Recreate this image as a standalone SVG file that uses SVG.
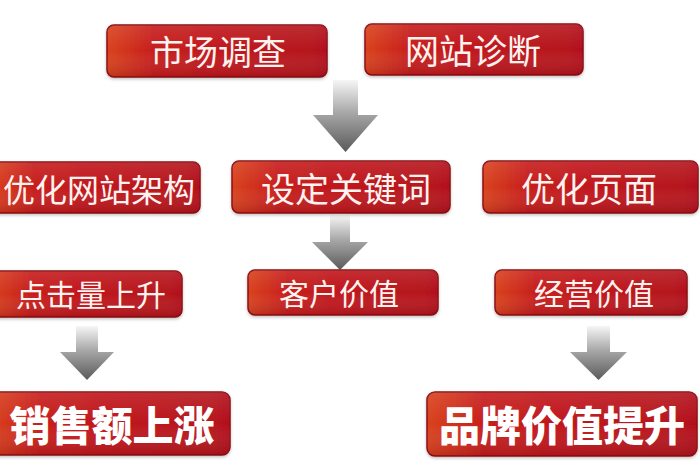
<svg xmlns="http://www.w3.org/2000/svg" width="700" height="470" viewBox="0 0 700 470">
<defs>
<linearGradient id="boxg" x1="0" y1="0" x2="1" y2="0">
<stop offset="0" stop-color="#d9421f"/>
<stop offset="0.22" stop-color="#c61c1c"/>
<stop offset="1" stop-color="#b3111a"/>
</linearGradient>
<linearGradient id="shine" x1="0" y1="0" x2="0" y2="1">
<stop offset="0" stop-color="#ffffff" stop-opacity="0.1"/>
<stop offset="0.5" stop-color="#ffffff" stop-opacity="0"/>
<stop offset="1" stop-color="#5a0008" stop-opacity="0.2"/>
</linearGradient>
<linearGradient id="arrg" x1="0" y1="0" x2="0" y2="1">
<stop offset="0" stop-color="#f6f6f6"/>
<stop offset="0.45" stop-color="#a8a8a8"/>
<stop offset="1" stop-color="#5a5a5a"/>
</linearGradient>
<filter id="sh" x="-10%" y="-20%" width="120%" height="150%">
<feDropShadow dx="0" dy="1.5" stdDeviation="1.5" flood-color="#000" flood-opacity="0.25"/>
</filter>
</defs>
<style>
.box{fill:url(#boxg);stroke:#8a0c12;stroke-width:1.5;filter:url(#sh)}
.gl{fill:url(#shine)}
.t{font-family:"Noto Sans CJK SC","Noto Sans CJK JP",sans-serif;fill:#fff2ef;text-anchor:middle;dominant-baseline:central}
.r1{font-size:34px}
.r2{font-size:32px}
.r3{font-size:30px}
.r4{font-size:41px;font-weight:900;fill:#ffffff}
.arr{fill:url(#arrg)}
</style>
<rect width="700" height="470" fill="#ffffff"/>
<g id="connectors">
<path class="arr" d="M333,80 H358 V115 H378 L345.5,152 L313,115 H333 Z"/>
<path class="arr" d="M330,215 H350 V242 H368 L340,270 L312,242 H330 Z"/>
<path class="arr" d="M76,326 H98 V352 H114 L87,380 L60,352 H76 Z"/>
<path class="arr" d="M587,326 H610 V352 H627 L598.5,380 L570,352 H587 Z"/>
</g>
<g id="n-market">
<rect class="box" x="107" y="25" width="220" height="52" rx="7"/>
<rect class="gl" x="107" y="25" width="220" height="52" rx="7"/>
<text class="t r1" x="218" y="50">市场调查</text>
</g>
<g id="n-diag">
<rect class="box" x="365" y="24" width="218" height="51" rx="7"/>
<rect class="gl" x="365" y="24" width="218" height="51" rx="7"/>
<text class="t r1" x="473" y="49">网站诊断</text>
</g>
<g id="n-arch">
<rect class="box" x="-10" y="162" width="210" height="51" rx="7"/>
<rect class="gl" x="-10" y="162" width="210" height="51" rx="7"/>
<text class="t r2" x="99" y="188">优化网站架构</text>
</g>
<g id="n-kw">
<rect class="box" x="232" y="161" width="218" height="52" rx="7"/>
<rect class="gl" x="232" y="161" width="218" height="52" rx="7"/>
<text class="t r1" x="346" y="187">设定关键词</text>
</g>
<g id="n-page">
<rect class="box" x="483" y="161" width="215" height="52" rx="7"/>
<rect class="gl" x="483" y="161" width="215" height="52" rx="7"/>
<text class="t r1" x="589" y="187">优化页面</text>
</g>
<g id="n-click">
<rect class="box" x="-10" y="271" width="192" height="46" rx="7"/>
<rect class="gl" x="-10" y="271" width="192" height="46" rx="7"/>
<text class="t r3" x="91" y="293">点击量上升</text>
</g>
<g id="n-cust">
<rect class="box" x="248" y="270" width="190" height="45" rx="7"/>
<rect class="gl" x="248" y="270" width="190" height="45" rx="7"/>
<text class="t r3" x="339" y="292">客户价值</text>
</g>
<g id="n-biz">
<rect class="box" x="495" y="270" width="192" height="45" rx="7"/>
<rect class="gl" x="495" y="270" width="192" height="45" rx="7"/>
<text class="t r3" x="594" y="292">经营价值</text>
</g>
<g id="n-sales">
<rect class="box" x="-10" y="392" width="240" height="63" rx="8"/>
<rect class="gl" x="-10" y="392" width="240" height="63" rx="8"/>
<text class="t r4" x="112" y="423">销售额上涨</text>
</g>
<g id="n-brand">
<rect class="box" x="427" y="392" width="270" height="64" rx="8"/>
<rect class="gl" x="427" y="392" width="270" height="64" rx="8"/>
<text class="t r4" x="562" y="423">品牌价值提升</text>
</g>
</svg>
